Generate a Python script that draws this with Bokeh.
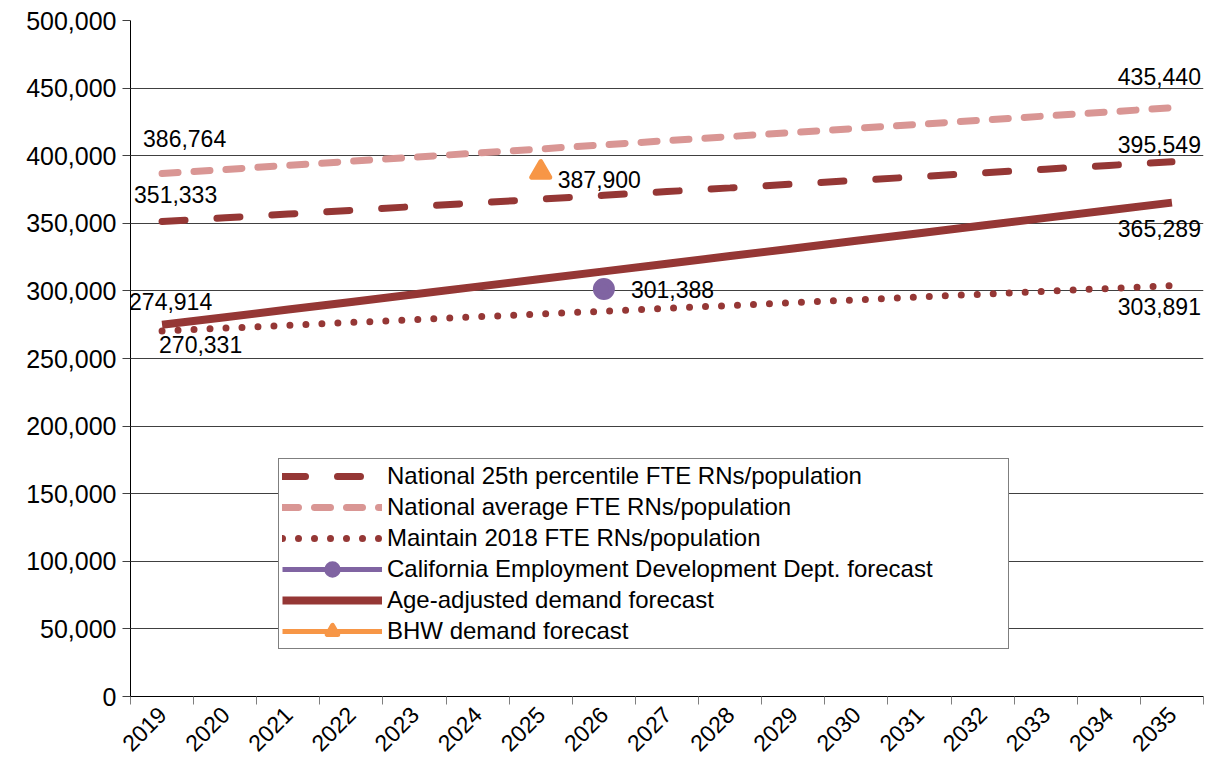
import math
from bokeh.plotting import figure
from bokeh.models import (Range1d, FixedTicker, NumeralTickFormatter, Label, Legend)
from bokeh.embed import file_html
from bokeh.resources import INLINE

# ---------------- data ----------------
years = [2019, 2020, 2021, 2022, 2023, 2024, 2025, 2026, 2027,
         2028, 2029, 2030, 2031, 2032, 2033, 2034, 2035]

national_25th = [351333, 354100, 356850, 359600, 362400, 365150, 367900, 370700, 373450,
                 376200, 379000, 381750, 384500, 387300, 390050, 392800, 395549]
national_avg = [386764, 389800, 392850, 395900, 398950, 401950, 405000, 408050, 411100,
                414150, 417200, 420200, 423250, 426300, 429350, 432400, 435440]
maintain_2018 = [270331, 272450, 274550, 276650, 278750, 280850, 282950, 285000, 287100,
                 289200, 291300, 293400, 295500, 297600, 299700, 301800, 303891]
age_adjusted = [274914, 280550, 286200, 291850, 297500, 303150, 308800, 314450, 320100,
                325750, 331400, 337050, 342700, 348350, 354000, 359650, 365289]
edd_year = [2026]
edd_value = [301388]
bhw_year = [2025]
bhw_value = [387900]

y_ticks = [0, 50000, 100000, 150000, 200000, 250000, 300000, 350000, 400000, 450000, 500000]

labels = ["National 25th percentile FTE RNs/population",
          "National average FTE RNs/population",
          "Maintain 2018 FTE RNs/population",
          "California Employment Development Dept. forecast",
          "Age-adjusted demand forecast",
          "BHW demand forecast"]

# ---------------- style ----------------
DARK = "#953735"
PINK = "#D99694"
PURPLE = "#8064A2"
ORANGE = "#F79646"
FONT = "Liberation Sans"

p = figure(width=1208, height=761, output_backend="svg", toolbar_location=None,
           x_range=Range1d(years[0] - 0.5, years[-1] + 0.5),
           y_range=Range1d(y_ticks[0], y_ticks[-1]),
           min_border_left=130, min_border_right=5, min_border_top=20, min_border_bottom=62)
p.outline_line_color = None
p.background_fill_color = "white"
p.border_fill_color = "white"

# axes
boundaries = [y - 0.5 for y in years] + [years[-1] + 0.5]
p.xaxis.ticker = FixedTicker(ticks=years, minor_ticks=boundaries)
p.xaxis.major_tick_out = 0
p.xaxis.major_tick_in = 0
p.xaxis.minor_tick_out = 8
p.xaxis.minor_tick_in = 0
p.xaxis.minor_tick_line_color = "#7f7f7f"
p.xaxis.axis_line_color = "black"
p.xaxis.major_label_orientation = math.pi / 4
p.xaxis.major_label_text_font = FONT
p.xaxis.major_label_text_font_size = "23px"
p.xaxis.major_label_text_color = "black"
p.xaxis.major_label_standoff = 6

p.yaxis.ticker = FixedTicker(ticks=y_ticks, minor_ticks=[])
p.yaxis.formatter = NumeralTickFormatter(format="0,0")
p.yaxis.major_tick_out = 8
p.yaxis.major_tick_in = 0
p.yaxis.major_tick_line_color = "#404040"
p.yaxis.axis_line_color = "black"
p.yaxis.major_label_text_font = FONT
p.yaxis.major_label_text_font_size = "25px"
p.yaxis.major_label_text_color = "black"
p.yaxis.major_label_standoff = 6

p.xgrid.grid_line_color = None
p.ygrid.grid_line_color = "#404040"
p.ygrid.grid_line_width = 1

# series
r25 = p.line(years, national_25th, line_color=DARK, line_width=7, line_dash="23 32", line_cap="round")
ravg = p.line(years, national_avg, line_color=PINK, line_width=7, line_dash="16 16", line_cap="round")
rmain = p.line(years, maintain_2018, line_color=DARK, line_width=7, line_dash="0 16", line_cap="round")
redd_l = p.line(edd_year, edd_value, line_color=PURPLE, line_width=5)
rage = p.line(years, age_adjusted, line_color=DARK, line_width=8)
redd = p.scatter(edd_year, edd_value, marker="circle", size=16, line_width=6,
                 fill_color=PURPLE, line_color=PURPLE)
rbhw_l = p.line(bhw_year, bhw_value, line_color=ORANGE, line_width=5)
rbhw = p.scatter(bhw_year, bhw_value, marker="triangle", size=18, line_width=5, line_join="round",
                 fill_color=ORANGE, line_color=ORANGE)

legend = Legend(items=[(labels[0], [r25]), (labels[1], [ravg]), (labels[2], [rmain]),
                       (labels[3], [redd_l, redd]), (labels[4], [rage]), (labels[5], [rbhw_l, rbhw])],
                location=(148, 47))
legend.label_text_font = FONT
legend.label_text_font_size = "24px"
legend.label_text_color = "black"
legend.glyph_width = 100
legend.glyph_height = 26
legend.label_height = 26
legend.label_width = 618
legend.label_standoff = 5
legend.spacing = 3
legend.padding = 3
legend.margin = 0
legend.border_line_color = "black"
legend.border_line_width = 1
legend.background_fill_color = "white"
legend.background_fill_alpha = 1
p.add_layout(legend)

# data labels
def add_label(x, y, dx, dy, align="left"):
    p.add_layout(Label(x=x, y=y, text=f"{y:,}", x_offset=dx, y_offset=dy,
                       text_font=FONT, text_font_size="23px", text_color="black",
                       text_align=align, text_baseline="middle"))

add_label(years[0], national_avg[0], -19, 35)
add_label(years[0], national_25th[0], -28, 27)
add_label(years[0], age_adjusted[0], -33, 23)
add_label(years[0], maintain_2018[0], -3, -13)
add_label(bhw_year[0], bhw_value[0], 17, -7)
add_label(edd_year[0], edd_value[0], 27, 0)
add_label(years[-1], national_avg[-1], 29, 31, "right")
add_label(years[-1], national_25th[-1], 29, 17, "right")
add_label(years[-1], age_adjusted[-1], 29, -26, "right")
add_label(years[-1], maintain_2018[-1], 29, -21, "right")

open("out.html", "w").write(file_html(p, INLINE))
